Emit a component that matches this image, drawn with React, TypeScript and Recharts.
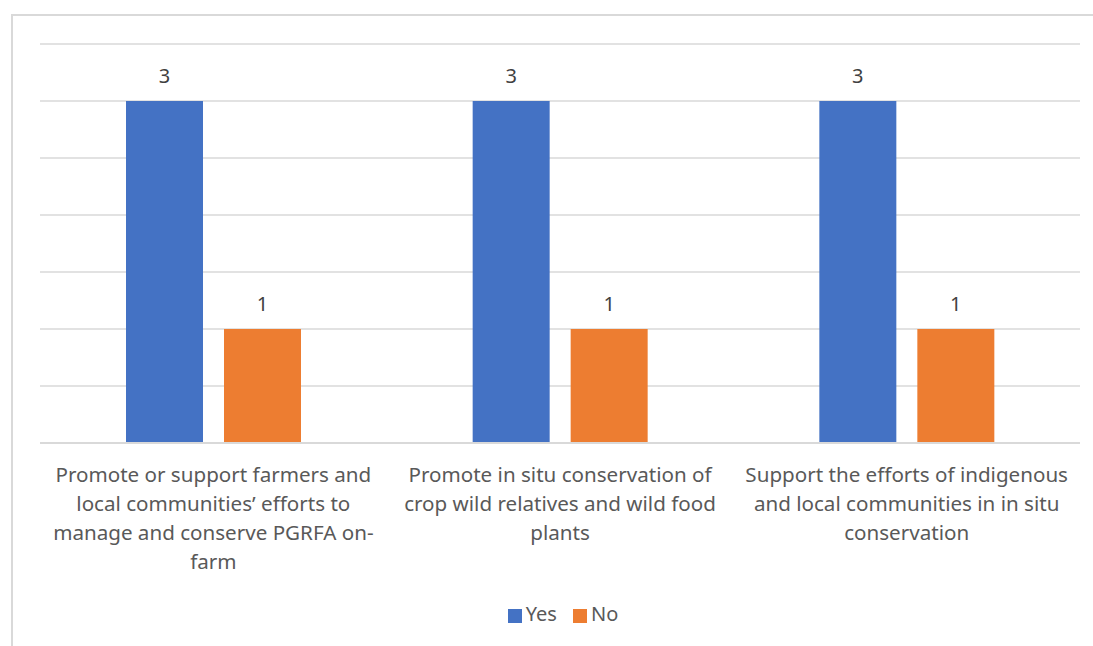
import { BarChart, Bar, XAxis, YAxis, CartesianGrid, Legend, LabelList } from 'recharts';

const CATEGORIES = [
  'Promote or support farmers and local communities’ efforts to manage and conserve PGRFA on-farm',
  'Promote in situ conservation of crop wild relatives and wild food plants',
  'Support the efforts of indigenous and local communities in in situ conservation',
];

// line breaks as drawn in the original axis labels
const CATEGORY_LINES = [
  ['Promote or support farmers and', 'local communities’ efforts to', 'manage and conserve PGRFA on-', 'farm'],
  ['Promote in situ conservation of', 'crop wild relatives and wild food', 'plants'],
  ['Support the efforts of indigenous', 'and local communities in in situ', 'conservation'],
];

const SERIES = ['Yes', 'No'];
const YES = [3, 3, 3];
const NO = [1, 1, 1];
const Y_TICKS = [0, 0.5, 1, 1.5, 2, 2.5, 3, 3.5];

const FONT = '"Segoe UI", "Noto Sans", "Open Sans", sans-serif';

const data = CATEGORIES.map((name, i) => ({ name, yes: YES[i], no: NO[i] }));

function WrappedTick(props: any) {
  const { x, y, index } = props;
  const lines = CATEGORY_LINES[index] || [];
  return (
    <g transform={`translate(${x},${y})`}>
      {lines.map((line, i) => (
        <text
          key={i}
          x={0}
          y={23 + i * 29}
          textAnchor="middle"
          dominantBaseline="central"
          fill="#595959"
          fontSize={20.6}
          fontFamily={FONT}
        >
          {line}
        </text>
      ))}
    </g>
  );
}

export default function App() {
  return (
    <div style={{ position: 'absolute', left: 0, top: 0, width: 1093, height: 646, overflow: 'hidden', background: '#fff' }}>
      <div
        style={{
          position: 'absolute',
          left: 11,
          top: 14,
          width: 1200,
          height: 800,
          border: '2px solid #d9d9d9',
        }}
      />
      <BarChart
        width={1093}
        height={646}
        data={data}
        margin={{ top: 44, right: 13, left: 40, bottom: 0 }}
        barSize={77}
        barGap={21}
        style={{ position: 'absolute', left: 0, top: 0 }}
      >
        <CartesianGrid horizontal vertical={false} stroke="#d9d9d9" strokeWidth={1.5} />
        <XAxis
          dataKey="name"
          height={203}
          axisLine={{ stroke: '#d9d9d9', strokeWidth: 2 }}
          tickLine={false}
          interval={0}
          tick={<WrappedTick />}
        />
        <YAxis hide domain={[0, 3.5]} ticks={Y_TICKS} width={0} />
        <Legend
          layout="horizontal"
          verticalAlign="middle"
          align="center"
          iconType="square"
          iconSize={14}
          itemSorter={(item: any) => SERIES.indexOf(item.value)}
          wrapperStyle={{ top: 600, left: 7, width: 1128, fontFamily: FONT, fontSize: 20 }}
          formatter={(value: string) => (
            <span style={{ color: '#595959', marginRight: 6 }}>{value}</span>
          )}
        />
        <Bar dataKey="yes" name={SERIES[0]} fill="#4472c4" isAnimationActive={false}>
          <LabelList dataKey="yes" position="top" offset={18} fill="#404040" fontSize={20} fontFamily={FONT} />
        </Bar>
        <Bar dataKey="no" name={SERIES[1]} fill="#ed7d31" isAnimationActive={false}>
          <LabelList dataKey="no" position="top" offset={18} fill="#404040" fontSize={20} fontFamily={FONT} />
        </Bar>
      </BarChart>
    </div>
  );
}
